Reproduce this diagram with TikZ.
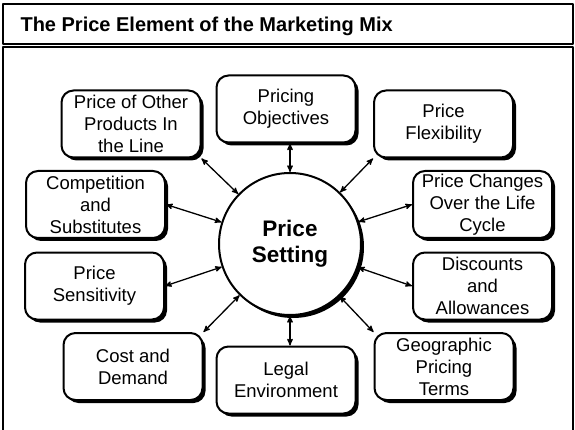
\documentclass[tikz,border=0pt]{standalone}
\usepackage{fontspec}
\setmainfont{Liberation Sans}
\usetikzlibrary{
    arrows,
    shadows,
}

\begin{document}
\begin{tikzpicture}[x=1pt,y=-1pt,>=stealth',line join=round]

    \tikzstyle{commonNode}=[font=\fontsize{18.5}{22}\selectfont, align=center, line width=2pt, draw=black, fill=white]
    \tikzstyle{boxShadow}=[drop shadow={shadow xshift=3pt, shadow yshift=-3pt, opacity=1, fill=black}]
    \tikzstyle{factor}=[commonNode, boxShadow, rectangle, rounded corners=12pt, minimum width=139pt, minimum height=67pt, inner sep=0pt]
    \tikzstyle{hub}=[commonNode, boxShadow, circle, minimum size=142pt, inner sep=0pt, font=\fontsize{22.5}{26}\selectfont\bfseries]
    \tikzstyle{frame}=[line width=2.5pt]
    \tikzstyle{both}=[<->, line width=1.3pt]

    \useasboundingbox (0,0) rectangle (575,430);

    % Frame and title
    \draw [frame] (3,4) rectangle (573,44);
    \draw [frame] (3,47) rectangle (573,445);
    \node at (17,32) [anchor=base west, font=\fontsize{20}{24}\selectfont\bfseries] (title) {The Price Element of the Marketing Mix};

    \begin{scope}
        % Top row
        \node at (131,124)   [factor] (POP)  {Price of Other \\ Products In \\ the Line};
        \node at (286,109)   [factor] (PO)   {Pricing \\ Objectives};
        \node at (443.5,124) [factor] (PF)   {Price \\ Flexibility};

        % Sides
        \node at (95.5,204.5)  [factor] (CS)   {Competition \\ and \\ Substitutes};
        \node at (482.5,204.5) [factor] (PC)   {Price Changes \\ Over the Life \\ Cycle};
        \node at (94.5,286)    [factor] (PSen) {Price \\ Sensitivity};
        \node at (482.5,286)   [factor] (DA)   {Discounts \\ and \\ Allowances};

        % Bottom row
        \node at (133,366.5) [factor] (CD)   {Cost and \\ Demand};
        \node at (286,380)   [factor] (LE)   {Legal \\ Environment};
        \node at (444,366.5) [factor] (GP)   {Geographic \\ Pricing \\ Terms};

        % Hub
        \node at (290,244) [hub] (PS) {Price \\ Setting}
            edge [both] (POP.south east)
            edge [both] (PS.north |- PO.south)
            edge [both] (PF.south west)
            edge [both] (CS.east)
            edge [both] (PC.west)
            edge [both] (PSen.east)
            edge [both] (DA.west)
            edge [both] (CD.north east)
            edge [both] (PS.south |- LE.north)
            edge [both] (GP.north west);
    \end{scope}

\end{tikzpicture}
\end{document}
